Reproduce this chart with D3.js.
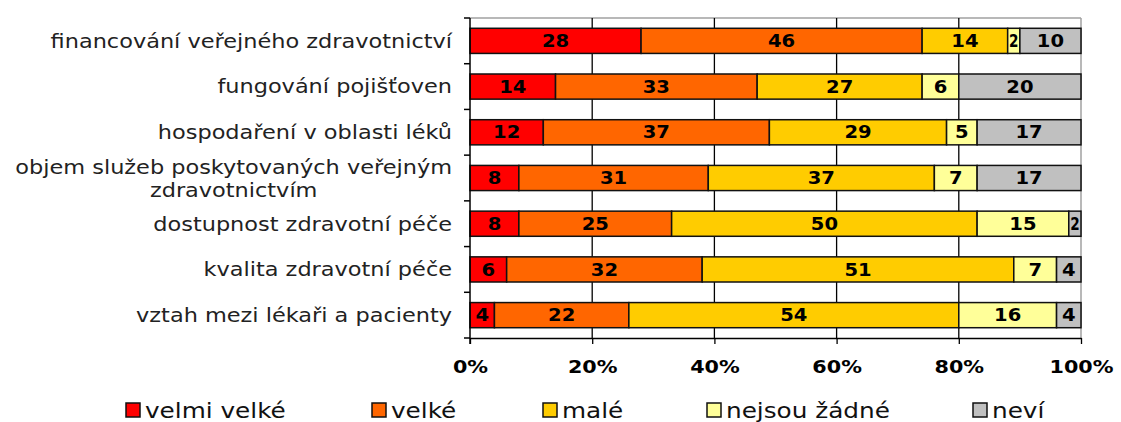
<html>
<head>
<meta charset="UTF-8">
<title>Problémy ve zdravotnictví</title>
<style>
  body { margin: 0; background: #fff; }
  text { font-family: "DejaVu Sans", Verdana, sans-serif; }
</style>
</head>
<body>
<script src="https://d3js.org/d3.v7.min.js"></script>
<div id="chart"></div>
<script>
// categories (top to bottom)
var categories = [
  ["financování veřejného zdravotnictví"],
  ["fungování pojišťoven"],
  ["hospodaření v oblasti léků"],
  ["objem služeb poskytovaných veřejným", "zdravotnictvím"],
  ["dostupnost zdravotní péče"],
  ["kvalita zdravotní péče"],
  ["vztah mezi lékaři a pacienty"]
];
var seriesNames = ["velmi velké", "velké", "malé", "nejsou žádné", "neví"];
var velmiVelke = [28, 14, 12, 8, 8, 6, 4];
var velke      = [46, 33, 37, 31, 25, 32, 22];
var male       = [14, 27, 29, 37, 50, 51, 54];
var nejsou     = [2, 6, 5, 7, 15, 7, 16];
var nevi       = [10, 20, 17, 17, 2, 4, 4];
var ticks = [0, 20, 40, 60, 80, 100];

var colors = ["#ff0000", "#ff6600", "#ffcc00", "#ffff99", "#c0c0c0"];
var series = [velmiVelke, velke, male, nejsou, nevi];

// the original picture looks stretched sideways, so text gets a small x-scale
var SX = 1.15;

var W = 1121, H = 422;
var margin = {left: 470, right: 40, top: 18, bottom: 84};
var width = W - margin.left - margin.right,
    height = H - margin.top - margin.bottom;

var svg = d3.select("#chart").append("svg")
    .attr("width", W).attr("height", H);
var g = svg.append("g")
    .attr("transform", "translate(" + margin.left + "," + margin.top + ")");

var x = d3.scaleLinear().domain([0, 100]).range([0, width]);
var y = d3.scaleBand().domain(d3.range(categories.length)).range([0, height]).paddingInner(0.45).paddingOuter(0.225);

// plot border (grey, top + right)
g.append("line").attr("x1", 0).attr("x2", width).attr("y1", 0).attr("y2", 0)
  .attr("stroke", "#a0a0a0").attr("stroke-width", 1.5);
g.append("line").attr("x1", width).attr("x2", width).attr("y1", 0).attr("y2", height)
  .attr("stroke", "#a0a0a0").attr("stroke-width", 1.5);

// vertical gridlines
g.selectAll(".grid").data(ticks.slice(1, -1)).enter().append("line")
  .attr("x1", d => x(d)).attr("x2", d => x(d))
  .attr("y1", 0).attr("y2", height)
  .attr("stroke", "#000").attr("stroke-width", 1.3);

// stacked data
var rows = categories.map(function(c, i) {
  var acc = 0;
  return series.map(function(s, k) {
    var seg = {row: i, k: k, v: s[i], x0: acc, x1: acc + s[i]};
    acc += s[i];
    return seg;
  });
});

var segs = g.selectAll(".row").data(rows).enter().append("g")
  .selectAll("g").data(d => d).enter().append("g");

segs.append("rect")
  .attr("x", d => x(d.x0))
  .attr("y", d => y(d.row))
  .attr("width", d => x(d.x1) - x(d.x0))
  .attr("height", y.bandwidth())
  .attr("fill", d => colors[d.k])
  .attr("stroke", "#111").attr("stroke-width", 1.5);

segs.append("text")
  .attr("transform", d => "translate(" + ((x(d.x0) + x(d.x1)) / 2) + "," + (y(d.row) + y.bandwidth() / 2) + ") scale(" + (d.v <= 2 ? 0.8 : SX) + ",1)")
  .attr("dy", "0.36em")
  .attr("text-anchor", "middle")
  .attr("font-weight", "bold")
  .attr("font-size", 17)
  .attr("fill", "#000")
  .text(d => d.v);

// x axis
var xAxis = g.append("g").attr("transform", "translate(0," + height + ")")
  .call(d3.axisBottom(x).tickValues(ticks).tickFormat(d => d + "%").tickSize(6).tickSizeOuter(0));
xAxis.select(".domain").attr("stroke", "#000").attr("stroke-width", 1.5);
xAxis.selectAll(".tick line").attr("stroke", "#000").attr("stroke-width", 1.3);
xAxis.selectAll(".tick text")
  .attr("font-family", "DejaVu Sans, sans-serif")
  .attr("font-size", 18).attr("font-weight", "bold").attr("fill", "#000")
  .attr("transform", "scale(" + SX + ",1)")
  .attr("dy", "1.45em");

// y axis (ticks between categories)
g.append("line").attr("x1", 0).attr("x2", 0).attr("y1", 0).attr("y2", height + 6)
  .attr("stroke", "#000").attr("stroke-width", 1.5);
g.selectAll(".ytick").data(d3.range(categories.length + 1)).enter().append("line")
  .attr("x1", -6).attr("x2", 0)
  .attr("y1", d => d * y.step()).attr("y2", d => d * y.step())
  .attr("stroke", "#000").attr("stroke-width", 1.5);

// category labels
var labels = g.selectAll(".lab").data(categories).enter().append("text")
  .attr("text-anchor", "end")
  .attr("font-size", 19.5)
  .attr("fill", "#222")
  .attr("transform", (d, i) => "translate(-18," + (y(i) + y.bandwidth() / 2) + ") scale(" + SX + ",1)");
labels.each(function(d) {
  var t = d3.select(this);
  if (d.length === 1) {
    t.append("tspan").attr("x", 0).attr("dy", "0.35em").text(d[0]);
  } else {
    var first = t.append("tspan").attr("x", 0).attr("y", -11).attr("dy", "0.35em").text(d[0]);
    var w1 = first.node().getComputedTextLength();
    t.append("tspan").attr("x", -w1 / 2).attr("y", 12).attr("dy", "0.35em")
      .attr("text-anchor", "middle").text(d[1]);
  }
});

// legend
var legendX = [126, 372, 543, 707, 973];
var leg = svg.selectAll(".leg").data(seriesNames).enter().append("g")
  .attr("transform", (d, i) => "translate(" + legendX[i] + ",410)");
leg.append("rect").attr("x", 0).attr("y", -7).attr("width", 14).attr("height", 14)
  .attr("fill", (d, i) => colors[i]).attr("stroke", "#111").attr("stroke-width", 1.5);
leg.append("text").attr("transform", "translate(19,0) scale(" + SX + ",1)")
  .attr("dy", "0.36em")
  .attr("font-size", 21.5).attr("fill", "#111")
  .text(d => d);
</script>
</body>
</html>
